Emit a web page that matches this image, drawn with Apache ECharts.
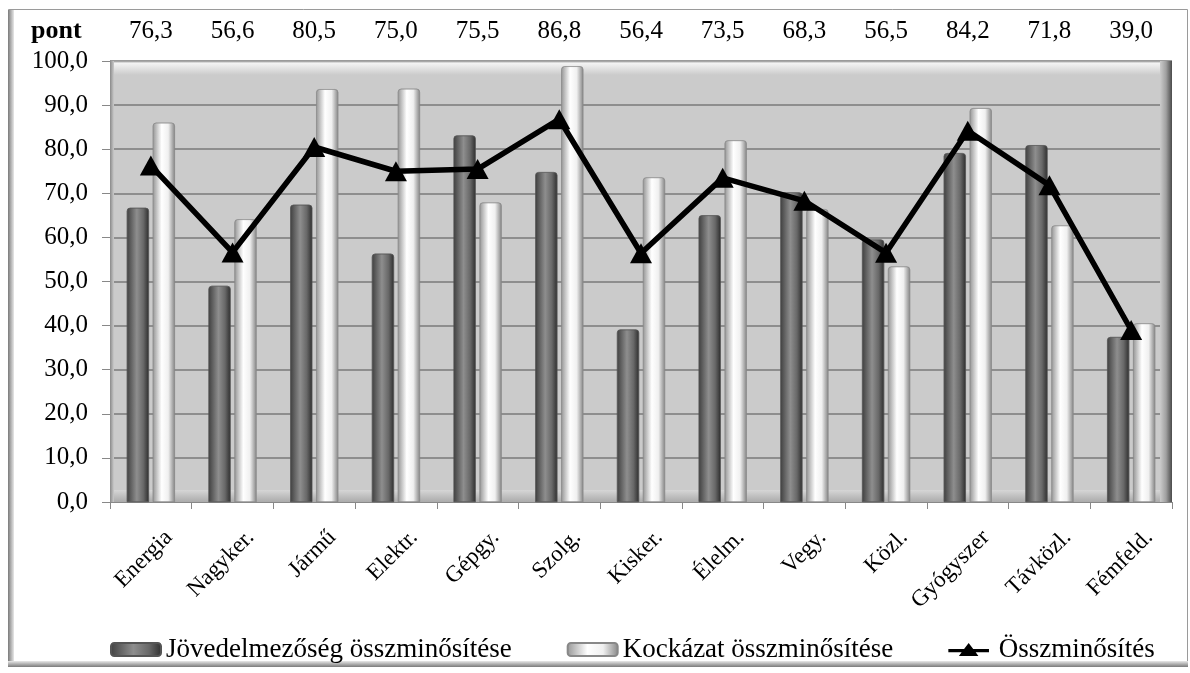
<!DOCTYPE html>
<html>
<head>
<meta charset="utf-8">
<script src="https://cdn.jsdelivr.net/npm/echarts@6/dist/echarts.min.js"></script>
<style>
  html, body { margin: 0; padding: 0; background: #ffffff; }
  #chart { width: 1190px; height: 673px; }
</style>
</head>
<body>
<div id="chart"></div>
<script>
// Ágazati minősítések
const categories = ['Energia', 'Nagyker.', 'Jármű', 'Elektr.', 'Gépgy.', 'Szolg.', 'Kisker.', 'Élelm.', 'Vegy.', 'Közl.', 'Gyógyszer', 'Távközl.', 'Fémfeld.'];
const profitScore = [66.7, 49.0, 67.4, 56.3, 83.1, 74.8, 39.1, 65.0, 70.2, 59.5, 79.1, 80.9, 37.4];
const riskScore = [86.0, 64.1, 93.6, 93.7, 67.9, 98.8, 73.6, 82.0, 66.4, 53.4, 89.3, 62.7, 40.5];
const totalScore = [76.3, 56.6, 80.5, 75.0, 75.5, 86.8, 56.4, 73.5, 68.3, 56.5, 84.2, 71.8, 39.0];
const yTicks = { min: 0, max: 100, interval: 10 };
const seriesNames = ['Jövedelmezőség összminősítése', 'Kockázat összminősítése', 'Összminősítés'];
const unitLabel = 'pont';

const FONT = 'Liberation Serif';
const fmt = v => Number(v).toFixed(1).replace('.', ',');

// legend icon: thick line with an upward triangle in the middle
const lineMarkerIcon = 'path://M0,7.5L19.375,7.5L25,0L30.625,7.5L50,7.5L50,11.5L33.625,11.5L37,16L13,16L16.375,11.5L0,11.5Z';

const darkFill = new echarts.graphic.LinearGradient(0, 0, 1, 0, [
  { offset: 0, color: '#404040' },
  { offset: 0.45, color: '#8e8e8e' },
  { offset: 0.75, color: '#686868' },
  { offset: 1, color: '#2e2e2e' }
]);
const lightFill = new echarts.graphic.LinearGradient(0, 0, 1, 0, [
  { offset: 0, color: '#959595' },
  { offset: 0.4, color: '#ffffff' },
  { offset: 0.7, color: '#f0f0f0' },
  { offset: 1, color: '#858585' }
]);

const chart = echarts.init(document.getElementById('chart'), null, { renderer: 'canvas' });

chart.setOption({
  animation: false,
  backgroundColor: '#ffffff',
  textStyle: { fontFamily: FONT, color: '#000' },
  grid: {
    left: 110, right: 18, top: 61, bottom: 171,
    show: true, backgroundColor: '#cbcbcb', borderWidth: 0
  },
  legend: {
    left: 105, top: 631,
    itemWidth: 50, itemHeight: 13, itemGap: 55,
    textStyle: { fontFamily: FONT, fontSize: 27, color: '#000' },
    data: [
      { name: seriesNames[0] },
      { name: seriesNames[1] },
      { name: seriesNames[2], icon: lineMarkerIcon, itemStyle: { color: '#000' } }
    ]
  },
  xAxis: [
    {
      type: 'category',
      data: categories,
      axisLine: { show: true, lineStyle: { color: '#888', width: 1 } },
      axisTick: { show: true, length: 7, lineStyle: { color: '#888' } },
      axisLabel: {
        rotate: 45, margin: 14, fontSize: 23, color: '#000', fontFamily: FONT, interval: 0,
        verticalAlign: 'top', padding: [14, 0, 0, 0]
      }
    },
    {
      type: 'category',
      position: 'top',
      data: totalScore.map(fmt),
      axisLine: { show: false },
      axisTick: { show: false },
      axisLabel: { margin: 17, fontSize: 25, color: '#000', fontFamily: FONT, interval: 0 }
    }
  ],
  yAxis: {
    type: 'value',
    min: yTicks.min, max: yTicks.max, interval: yTicks.interval,
    axisLine: { show: true, lineStyle: { color: '#888' } },
    axisTick: { show: true, length: 8, lineStyle: { color: '#888' } },
    axisLabel: { margin: 22, fontSize: 25, color: '#000', fontFamily: FONT, formatter: fmt },
    splitLine: { show: true, lineStyle: { color: '#7a7a7a', width: 1.5 } }
  },
  series: [
    {
      name: seriesNames[0], type: 'bar', data: profitScore,
      barWidth: 22, barGap: '18%', z: 3,
      itemStyle: { color: darkFill, borderColor: '#555', borderWidth: 0.5, borderRadius: [3, 3, 0, 0] }
    },
    {
      name: seriesNames[1], type: 'bar', data: riskScore,
      barWidth: 22, z: 3,
      itemStyle: { color: lightFill, borderColor: '#888', borderWidth: 0.5, borderRadius: [3, 3, 0, 0] }
    },
    {
      name: seriesNames[2], type: 'line', data: totalScore, z: 5,
      symbol: 'triangle', symbolSize: [22, 20],
      lineStyle: { color: '#000', width: 5.5 },
      itemStyle: { color: '#000' }
    }
  ]
});

// Beveled back wall, outer frame and unit label
const rect = chart.getModel().getComponent('grid').coordinateSystem.getRect();
chart.setOption({
  graphic: [
    {
      type: 'rect', z: -10, silent: true,
      shape: { x: 8.5, y: 9.5, width: 1179, height: 657 },
      style: { fill: 'none', stroke: '#9a9a9a', lineWidth: 1 }
    },
    {
      type: 'rect', z: -9, silent: true,
      shape: { x: 8, y: 10, width: 6, height: 657 },
      style: { fill: new echarts.graphic.LinearGradient(0, 0, 1, 0, [
        { offset: 0, color: '#7a7a7a' }, { offset: 1, color: '#e8e8e8' }]) }
    },
    {
      type: 'rect', z: -9, silent: true,
      shape: { x: 8, y: 661, width: 1180, height: 6 },
      style: { fill: new echarts.graphic.LinearGradient(0, 0, 0, 1, [
        { offset: 0, color: '#e8e8e8' }, { offset: 1, color: '#7a7a7a' }]) }
    },
    {
      type: 'rect', z: 1, silent: true,
      shape: { x: rect.x, y: rect.y, width: rect.width, height: 14 },
      style: { fill: new echarts.graphic.LinearGradient(0, 0, 0, 1, [
        { offset: 0, color: '#909090' }, { offset: 0.15, color: '#f4f4f4' }, { offset: 1, color: '#cbcbcb' }]) }
    },
    {
      type: 'rect', z: 1, silent: true,
      shape: { x: rect.x + rect.width - 12, y: rect.y, width: 12, height: rect.height },
      style: { fill: new echarts.graphic.LinearGradient(0, 0, 1, 0, [
        { offset: 0, color: '#cbcbcb' }, { offset: 0.5, color: '#a0a0a0' }, { offset: 1, color: '#4a4a4a' }]) }
    },
    {
      type: 'rect', z: 1, silent: true,
      shape: { x: rect.x, y: rect.y, width: 4, height: rect.height },
      style: { fill: new echarts.graphic.LinearGradient(0, 0, 1, 0, [
        { offset: 0, color: '#8a8a8a' }, { offset: 1, color: '#cbcbcb' }]) }
    },
    {
      type: 'rect', z: 1, silent: true,
      shape: { x: rect.x + 4, y: rect.y + rect.height - 12, width: rect.width - 16, height: 12 },
      style: { fill: new echarts.graphic.LinearGradient(0, 0, 0, 1, [
        { offset: 0, color: '#d6d6d6' }, { offset: 1, color: '#ababab' }]) }
    },
    {
      type: 'text', z: 10, silent: true,
      left: 31, top: 18,
      style: { text: unitLabel, font: 'bold 26px "Liberation Serif"', fill: '#000' }
    }
  ]
});
</script>
</body>
</html>
